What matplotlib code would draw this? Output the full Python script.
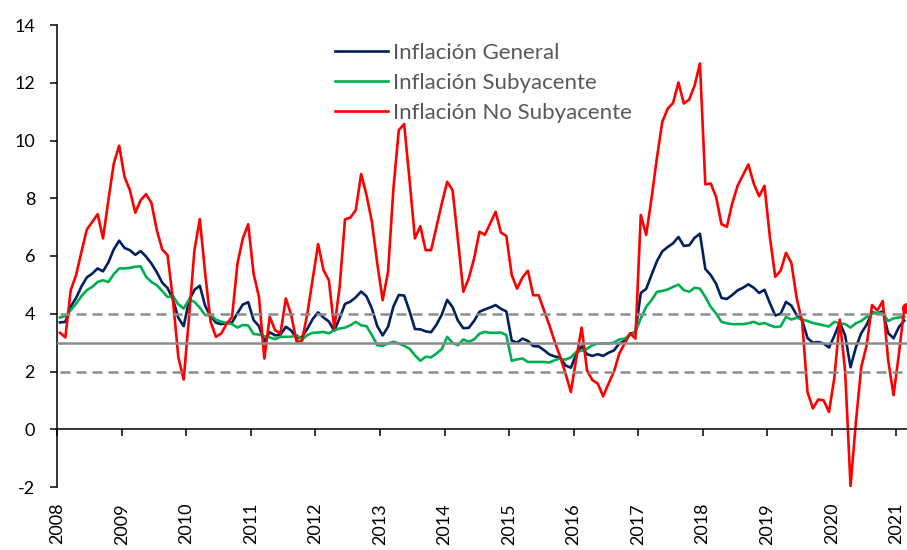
import numpy as np
import matplotlib
matplotlib.use("Agg")
import matplotlib.pyplot as plt


YEARS = [str(y) for y in range(2008, 2022)]

# inflación anual, mensual ene-2008 a feb-2021
GENERAL = [
    3.70, 3.72, 4.25, 4.55, 4.95, 5.26, 5.39, 5.57, 5.47, 5.78, 6.23, 6.53,
    6.28, 6.20, 6.04, 6.17, 5.98, 5.74, 5.44, 5.08, 4.89, 4.50, 3.86, 3.57,
    4.46, 4.83, 4.97, 4.27, 3.92, 3.69, 3.64, 3.68, 3.70, 4.02, 4.32, 4.40,
    3.78, 3.57, 3.04, 3.36, 3.25, 3.28, 3.55, 3.42, 3.14, 3.20, 3.48, 3.82,
    4.05, 3.87, 3.73, 3.41, 3.85, 4.34, 4.42, 4.57, 4.77, 4.60, 4.18, 3.57,
    3.25, 3.55, 4.25, 4.65, 4.63, 4.09, 3.47, 3.46, 3.39, 3.36, 3.62, 3.97,
    4.48, 4.23, 3.76, 3.50, 3.51, 3.75, 4.07, 4.15, 4.22, 4.30, 4.17, 4.08,
    3.07, 3.00, 3.14, 3.06, 2.88, 2.87, 2.74, 2.59, 2.52, 2.48, 2.21, 2.13,
    2.61, 2.87, 2.60, 2.54, 2.60, 2.54, 2.65, 2.73, 2.97, 3.06, 3.31, 3.36,
    4.72, 4.86, 5.35, 5.82, 6.16, 6.31, 6.44, 6.66, 6.35, 6.37, 6.63, 6.77,
    5.55, 5.34, 5.04, 4.55, 4.51, 4.65, 4.81, 4.90, 5.02, 4.90, 4.72, 4.83,
    4.37, 3.94, 4.00, 4.41, 4.28, 3.95, 3.78, 3.16, 3.00, 3.02, 2.97, 2.83,
    3.24, 3.70, 3.25, 2.15, 2.84, 3.33, 3.62, 4.05, 4.01, 4.09, 3.33, 3.15,
    3.54, 3.76,
]

SUBYACENTE = [
    3.87, 3.92, 4.12, 4.35, 4.61, 4.82, 4.93, 5.10, 5.16, 5.10, 5.37, 5.57,
    5.57, 5.59, 5.63, 5.64, 5.28, 5.10, 4.99, 4.79, 4.58, 4.61, 4.33, 4.18,
    4.49, 4.41, 4.21, 3.95, 3.95, 3.80, 3.72, 3.68, 3.64, 3.52, 3.61, 3.59,
    3.30, 3.28, 3.22, 3.18, 3.12, 3.20, 3.20, 3.20, 3.26, 3.11, 3.26, 3.34,
    3.35, 3.37, 3.32, 3.43, 3.49, 3.52, 3.60, 3.72, 3.60, 3.57, 3.26, 2.91,
    2.89, 2.97, 3.03, 2.97, 2.89, 2.79, 2.56, 2.37, 2.51, 2.49, 2.62, 2.78,
    3.20, 2.99, 2.91, 3.11, 3.03, 3.11, 3.31, 3.37, 3.34, 3.34, 3.35, 3.26,
    2.37, 2.42, 2.45, 2.33, 2.33, 2.33, 2.33, 2.31, 2.39, 2.45, 2.41, 2.49,
    2.68, 2.72, 2.79, 2.91, 2.97, 2.97, 2.97, 3.00, 3.11, 3.14, 3.26, 3.37,
    3.84, 4.24, 4.47, 4.76, 4.79, 4.84, 4.93, 5.01, 4.82, 4.76, 4.90, 4.87,
    4.58, 4.24, 4.01, 3.72, 3.67, 3.64, 3.64, 3.64, 3.67, 3.72, 3.64, 3.68,
    3.60, 3.54, 3.56, 3.89, 3.80, 3.86, 3.80, 3.75, 3.68, 3.64, 3.60, 3.56,
    3.72, 3.67, 3.64, 3.52, 3.67, 3.75, 3.89, 4.01, 4.03, 4.01, 3.75, 3.84,
    3.87, 3.89,
]

NO_SUBYACENTE = [
    3.34, 3.18, 4.82, 5.34, 6.15, 6.92, 7.18, 7.45, 6.61, 7.93, 9.20, 9.82,
    8.74, 8.28, 7.50, 7.93, 8.14, 7.84, 6.90, 6.23, 6.03, 4.50, 2.50, 1.72,
    3.89, 6.20, 7.28, 5.39, 3.72, 3.20, 3.32, 3.66, 3.89, 5.74, 6.61, 7.10,
    5.39, 4.58, 2.45, 3.89, 3.43, 3.32, 4.53, 3.95, 3.03, 3.06, 4.01, 5.22,
    6.41, 5.51, 5.16, 3.49, 4.93, 7.27, 7.33, 7.59, 8.84, 8.11, 7.18, 5.74,
    4.47, 5.45, 8.34, 10.36, 10.57, 8.63, 6.61, 7.03, 6.20, 6.20, 7.00, 7.82,
    8.57, 8.28, 6.55, 4.76, 5.22, 5.91, 6.84, 6.73, 7.13, 7.53, 6.81, 6.69,
    5.34, 4.87, 5.26, 5.49, 4.64, 4.64, 4.12, 3.60, 3.03, 2.51, 1.93, 1.29,
    2.45, 3.52, 2.04, 1.70, 1.58, 1.14, 1.58, 1.99, 2.62, 2.97, 3.32, 3.14,
    7.42, 6.73, 8.00, 9.40, 10.65, 11.10, 11.30, 12.01, 11.28, 11.42, 11.90, 12.67,
    8.48, 8.51, 8.05, 7.10, 7.01, 7.82, 8.43, 8.80, 9.17, 8.51, 8.07, 8.43,
    6.66, 5.28, 5.49, 6.11, 5.76, 4.53, 3.72, 1.29, 0.72, 1.03, 1.00, 0.60,
    1.80, 3.80, 2.00, -1.97, 0.25, 2.16, 2.91, 4.30, 4.12, 4.44, 2.39, 1.18,
    2.62, 4.20,
]

META = 3.0
INTERVALO = (2.0, 4.0)

plt.rcParams["font.family"] = ["Lato", "DejaVu Sans"]
plt.rcParams["axes.unicode_minus"] = False

GRIS = "#8c8c8c"

fig = plt.figure(figsize=(9.07, 5.5), dpi=100)
ax = fig.add_axes([57.3 / 907, 1 - 487 / 550, 1 - 57.3 / 907, 462 / 550])

n = len(GENERAL)
x = np.arange(n) + 0.5

ax.plot(x, GENERAL, color="#002060", lw=1.9, label="Inflación General", zorder=2)
ax.plot(x, SUBYACENTE, color="#00b050", lw=1.9, label="Inflación Subyacente", zorder=2)
ax.plot(x, NO_SUBYACENTE, color="#ff0000", lw=1.9, label="Inflación No Subyacente", zorder=2)
# punto final resaltado (queda recortado por el borde)
ax.plot(x[-1:] + 0.5, NO_SUBYACENTE[-1:], "o", color="#ff0000", ms=7, zorder=2)

ax.plot(x, [INTERVALO[1]] * n, color=GRIS, lw=1.8, ls=(0, (4, 2.4)), zorder=3)
ax.plot(x, [INTERVALO[0]] * n, color=GRIS, lw=1.8, ls=(0, (4, 2.4)), zorder=3)
ax.axhline(META, color=GRIS, lw=1.8, zorder=3)

ax.set_xlim(0, n)
ax.set_ylim(-2, 14)
ax.set_yticks(np.arange(-2, 15, 2))
ax.set_xticks(np.arange(0, n, 12))

for s in ["top", "right"]:
    ax.spines[s].set_visible(False)
ax.spines["bottom"].set_position(("data", 0))
ax.spines["left"].set_linewidth(1.1)
ax.spines["bottom"].set_linewidth(1.1)
ax.tick_params(axis="x", direction="out", length=5, width=1.1, labelbottom=False)
ax.tick_params(axis="y", direction="out", length=5, width=1.1, pad=11, labelsize=13)

sec = ax.secondary_xaxis("bottom")
sec.set_xticks(np.arange(0, n, 12), YEARS)
sec.tick_params(length=0, pad=11.5, labelsize=13, labelrotation=90)
sec.spines["bottom"].set_visible(False)

leg = ax.legend(loc="upper left", bbox_to_anchor=(335 / 907, 1 - 43 / 550),
                bbox_transform=fig.transFigure, frameon=False, fontsize=16,
                handlelength=2.4, handletextpad=0.2, labelspacing=0.44,
                borderpad=0, borderaxespad=0)
for t in leg.get_texts():
    t.set_color("#595959")

fig.savefig("out.png", dpi=100)
